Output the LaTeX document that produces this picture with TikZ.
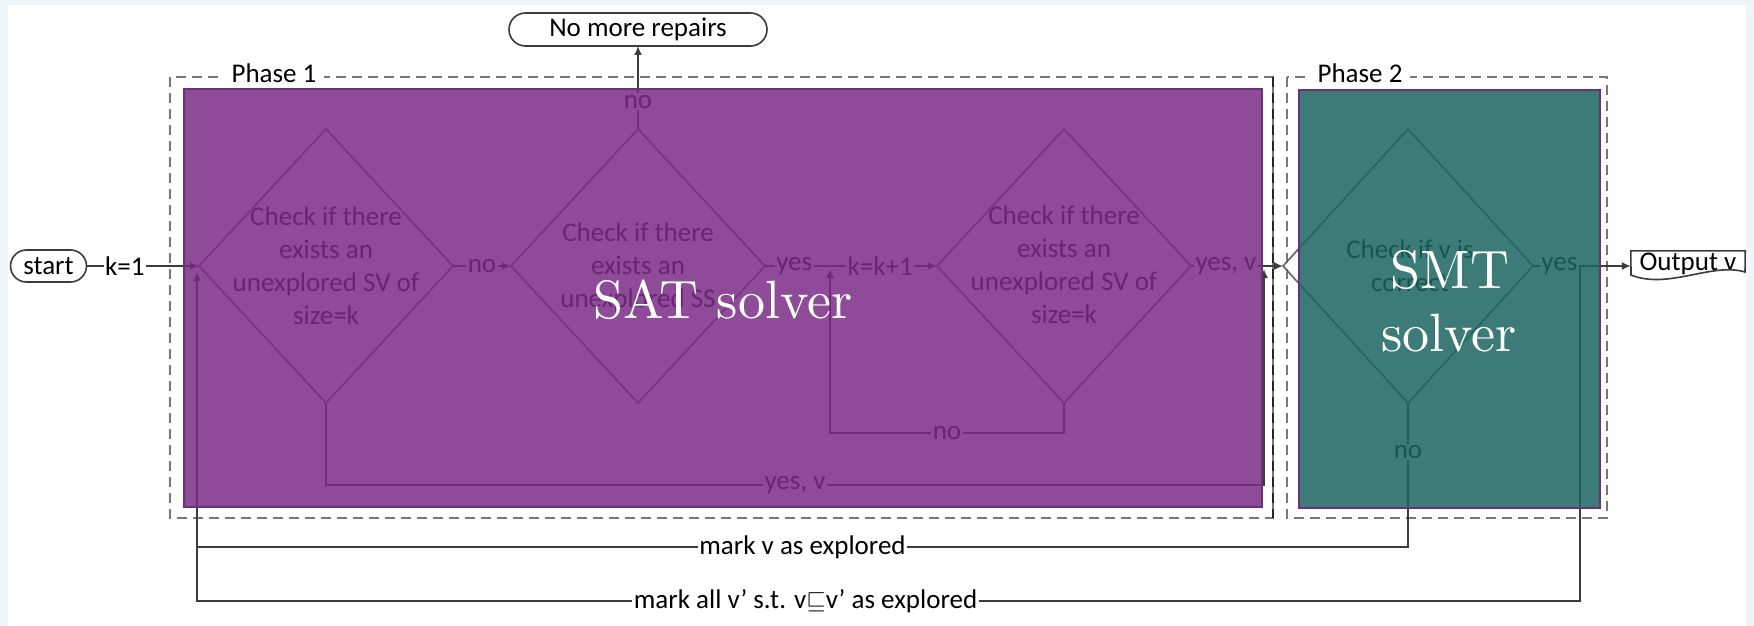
\documentclass[tikz,border=0pt]{standalone}
\usepackage{fontspec}
\usetikzlibrary{shapes.geometric,shapes.misc,arrows.meta}
\newfontfamily\carl{Carlito}
\newfontfamily\lmten{lmroman10-regular.otf}
\definecolor{framecol}{HTML}{EEF6F9}
\definecolor{satfill}{RGB}{122,44,134}
\definecolor{smtfill}{RGB}{28,101,98}
\definecolor{boxedge}{RGB}{105,50,115}
\definecolor{linegray}{HTML}{3C3C3C}
\definecolor{phasegray}{HTML}{777777}
\begin{document}
\begin{tikzpicture}[x=1pt,y=-1pt,
  every node/.style={font=\carl\fontsize{27}{33}\selectfont, text=black},
  conn/.style={draw=linegray, line width=1.6pt},
  arr/.style={conn, -{Latex[length=9pt,width=8pt]}},
  lbl/.style={fill=white, inner sep=1.5pt},
  dia/.style={shape=diamond, draw=linegray!80, line width=1.6pt, minimum width=254pt, minimum height=274pt, inner sep=0pt, outer sep=0pt},
  dtext/.style={align=center},
  term/.style={shape=rounded rectangle, draw=linegray, line width=1.6pt, inner sep=0pt, outer sep=0pt},
  phasebox/.style={draw=phasegray, line width=2pt, dash pattern=on 10pt off 6pt},
  phaselbl/.style={fill=white, inner xsep=8pt, inner ysep=0pt, anchor=base},
  solverbox/.style={draw=boxedge, line width=2pt, fill opacity=0.85},
  bigtxt/.style={font=\lmten\fontsize{54}{63}\selectfont, text=white, anchor=base}
]
\useasboundingbox (0,0) rectangle (1754,626);
\fill[framecol] (0,0) rectangle (1754,626);
\fill[white] (8,5) rectangle (1746,626);

% phase frames
\draw[phasebox] (170,77) rectangle (1273,518);
\draw[phasebox, draw=black!85] (1273,77) -- (1273,518);
\node[phaselbl] (ph1) at (274,83) {Phase 1};
\draw[phasebox] (1287,77) rectangle (1607,518);
\node[phaselbl] (ph2) at (1360,83) {Phase 2};

% terminals
\node[term, minimum width=76pt, minimum height=32pt] (start) at (48.5,266) {start};
\node[term, minimum width=258pt, minimum height=33pt] (nomore) at (638,29.5) {No more repairs};

% decisions
\node[dia] (d1) at (326,266) {};
\node[dtext] (t1) at (326,266) {Check if there\\exists an\\unexplored SV of\\size=k};
\node[dia] (d2) at (638,266) {};
\node[dtext] (t2) at (638,267) {Check if there\\exists an\\unexplored SS};
\node[dia] (d3) at (1064,266) {};
\node[dtext] (t3) at (1064,265) {Check if there\\exists an\\unexplored SV of\\size=k};
\node[dia, minimum width=250pt] (d4) at (1408,266) {};
\node[dtext] (t4) at (1410,266) {Check if v is\\correct};

% output
\node[minimum width=114pt, minimum height=26pt, inner sep=0pt] (outv) at (1688,264) {Output v};
\draw[linegray, line width=1.6pt] (outv.north west) -- (outv.north east) -- (1745,272)
  .. controls (1712,262) and (1668,290) .. (1631,275) -- cycle;

% connectors
\draw[arr] (start.east) -- node[lbl,pos=0.34]{k=1} (d1.west);
\draw[arr] (d1.east) -- node[lbl]{no} (d2.west);
\draw[arr] (d2.north) -- node[lbl,pos=0.33]{no} (nomore.south);
\draw[arr] (d2.east) -- node[lbl,pos=0.17]{yes} node[lbl,pos=0.67]{k=k+1} (d3.west);
\coordinate (lp) at (830,433);
\coordinate (lpe) at (830,269);
\draw[arr] (d3.south) |- node[lbl,pos=0.75]{no} (lp) -- (lpe);
\coordinate (yr) at (1264,485);
\coordinate (yre) at (1264,269);
\draw[arr] (d1.south) |- node[lbl,pos=0.75]{yes, v} (yr) -- (yre);
\draw[arr] (d3.east) -- node[lbl,pos=0.38]{yes, v} (d4.west);
\draw[arr] (d4.east) -- node[lbl,pos=0.27]{yes} (d4.east -| outv.west);
\coordinate (fb) at (197,547);
\coordinate (fbe) at (197,272);
\draw[arr] (d4.south) |- node[lbl,pos=0.17]{no} node[lbl,pos=0.75]{mark v as explored} (fb) -- (fbe);
\coordinate (br) at (1580,266);
\coordinate (fb2) at (197,601);
\draw[conn] (br) |- node[lbl,pos=0.78]{mark all v’ s.t. v$\sqsubseteq$v’ as explored} (fb2) -- (fb);

% solver overlays
\draw[solverbox, fill=satfill] (184,89) rectangle (1262,507);
\draw[solverbox, fill=smtfill] (1299,90) rectangle (1600,508);
\node[bigtxt] (sat) at (723,318) {SAT solver};
\node[bigtxt] (smt1) at (1450,288) {SMT};
\node[bigtxt] (smt2) at (1449,351) {solver};
\end{tikzpicture}
\end{document}
